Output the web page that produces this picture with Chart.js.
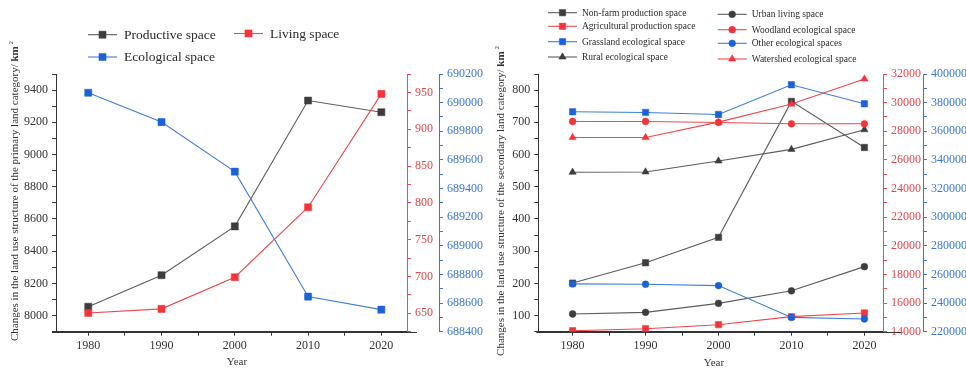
<!DOCTYPE html>
<html><head><meta charset="utf-8">
<script src="https://cdn.jsdelivr.net/npm/chart.js@4/dist/chart.umd.min.js"></script>
<style>
html,body{margin:0;padding:0;background:#fff;width:966px;height:369px;overflow:hidden}
canvas{position:absolute;left:0;top:0}
</style></head><body>
<canvas id="c1" width="966" height="369"></canvas>
<canvas id="c2" width="966" height="369"></canvas>
<script>
// ---------- data ----------
const years = [1980, 1990, 2000, 2010, 2020];
// primary land categories (km²)
const productiveSpace = [8055, 8251, 8554, 9335, 9263];
const livingSpace = [650.5, 656, 699, 794, 948];
const ecologicalSpace = [690069, 689864, 689518, 688645, 688554];
// secondary land categories (km²)
const nonFarmProduction = [201, 264, 343, 765, 622];
const urbanLiving = [105, 110, 138, 177, 252];
const ruralEcological = [545, 546, 580, 616, 677];
const agriculturalProduction = [14070, 14210, 14490, 15050, 15310];
const woodlandEcological = [28685, 28685, 28615, 28520, 28520];
const watershedEcological = [27565, 27565, 28640, 29900, 31650];
const grasslandEcological = [373600, 373150, 371750, 392500, 379200];
const otherEcological = [253400, 253150, 252200, 230000, 228900];

// ---------- style ----------
const SERIF = "'Liberation Serif','Times New Roman','DejaVu Serif',serif";
Chart.defaults.font.family = SERIF;
const GRAY = {line: '#5c5c5c', mark: '#3d3d3d', axis: '#333333', text: '#333333'};
const RED = {line: '#f0484d', mark: '#f5333b', axis: '#ee4a4f', text: '#e9464b'};
const BLUE = {line: '#3f7fd9', mark: '#1a62da', axis: '#3b76cc', text: '#3c78d0'};

function ds(label, vals, axis, c, style, r, order) {
  return {
    label, yAxisID: axis, order,
    data: years.map((y, i) => ({x: y, y: vals[i]})),
    borderColor: c.line, backgroundColor: c.mark,
    pointBackgroundColor: c.mark, pointBorderColor: c.mark,
    pointStyle: style, pointRadius: r, pointHoverRadius: r,
    borderWidth: 1.1, pointBorderWidth: 0.5, tension: 0
  };
}

function yScale(pos, weight, min, max, step, labelStep, c, width) {
  return {
    type: 'linear', position: pos, weight, min, max,
    afterFit: s => { s.width = width; },
    border: {display: true, color: c.axis, width: 1},
    grid: {display: true, drawOnChartArea: false, drawTicks: true, tickLength: 4, color: c.axis, tickColor: c.axis},
    ticks: {stepSize: step, includeBounds: false, autoSkip: false, color: c.text, padding: 4,
      font: {size: 12, family: SERIF},
      callback: v => (Math.round(v) % labelStep === 0 ? String(Math.round(v)) : '')}
  };
}

function xScale(min, max) {
  return {
    type: 'linear', min, max,
    afterFit: s => { s.height = 36; },
    border: {display: true, color: '#333', width: 1},
    grid: {display: true, drawOnChartArea: false, tickLength: 4, color: '#333', tickColor: '#333'},
    ticks: {stepSize: 5, includeBounds: false, autoSkip: false, maxRotation: 0, padding: 3,
      color: '#333', font: {size: 12, family: SERIF},
      callback: v => (Math.round(v) % 10 === 0 ? String(Math.round(v)) : '')}
  };
}

function drawMarker(ctx, style, x, y, r, color) {
  ctx.save();
  ctx.fillStyle = color; ctx.strokeStyle = color; ctx.lineWidth = 0.5;
  if (Chart.helpers && Chart.helpers.drawPoint) {
    Chart.helpers.drawPoint(ctx, {pointStyle: style, rotation: 0, borderWidth: 0.5, radius: r}, x, y);
  } else {
    ctx.beginPath();
    if (style === 'rect') { const s = r * Math.SQRT1_2; ctx.rect(x - s, y - s, 2 * s, 2 * s); }
    else if (style === 'triangle') { ctx.moveTo(x, y - r); ctx.lineTo(x + 0.866 * r, y + r / 2); ctx.lineTo(x - 0.866 * r, y + r / 2); ctx.closePath(); }
    else { ctx.arc(x, y, r, 0, Math.PI * 2); }
    ctx.fill();
  }
  ctx.restore();
}

const decor = {
  id: 'decor',
  afterDraw(chart, args, o) {
    const ctx = chart.ctx, ca = chart.chartArea;
    ctx.save();
    // x axis line extension
    ctx.strokeStyle = '#333'; ctx.lineWidth = 1;
    ctx.beginPath();
    ctx.moveTo(ca.left - o.extL, Math.round(ca.bottom) + 0.5);
    ctx.lineTo(ca.right + o.extR, Math.round(ca.bottom) + 0.5);
    ctx.stroke();
    // Year title
    ctx.fillStyle = '#333';
    ctx.font = '11px ' + SERIF;
    ctx.textAlign = 'center'; ctx.textBaseline = 'middle';
    ctx.fillText('Year', o.yearX, o.yearY);
    // y title (rotated, with bold km and superscript 2)
    ctx.save();
    ctx.translate(o.titleX, o.titleY);
    ctx.rotate(-Math.PI / 2);
    ctx.textAlign = 'left'; ctx.textBaseline = 'middle';
    const segs = [
      {t: o.titleText, f: '11px ' + SERIF, dy: 0},
      {t: 'km', f: 'bold 11px ' + SERIF, dy: 0},
      {t: ' 2', f: '7px ' + SERIF, dy: -4}
    ];
    let total = 0;
    segs.forEach(s => { ctx.font = s.f; s.w = ctx.measureText(s.t).width; total += s.w; });
    let xx = -total / 2;
    segs.forEach(s => { ctx.font = s.f; ctx.fillText(s.t, xx, s.dy); xx += s.w; });
    ctx.restore();
    // legend
    ctx.font = o.legendFont;
    ctx.textAlign = 'left'; ctx.textBaseline = 'middle';
    o.legend.forEach(e => {
      const d = chart.data.datasets[e.i];
      ctx.strokeStyle = d.borderColor; ctx.lineWidth = 1.1;
      ctx.beginPath(); ctx.moveTo(e.x, e.y); ctx.lineTo(e.x + o.lineLen, e.y); ctx.stroke();
      drawMarker(ctx, d.pointStyle, e.x + o.lineLen / 2, e.y, d.pointRadius, d.pointBackgroundColor);
      ctx.fillStyle = '#2a2a2a';
      ctx.fillText(d.label, e.x + o.textOff, e.y + 0.5);
    });
    ctx.restore();
  }
};

// ---------- left chart ----------
new Chart(document.getElementById('c1'), {
  type: 'line',
  data: {datasets: [
    ds('Productive space', productiveSpace, 'y', GRAY, 'rect', 5, 3),
    ds('Living space', livingSpace, 'yRed', RED, 'rect', 5, 2),
    ds('Ecological space', ecologicalSpace, 'yBlue', BLUE, 'rect', 5, 1)
  ]},
  options: {
    responsive: false, animation: false, devicePixelRatio: 1,
    layout: {padding: {left: 16, right: 481, top: 74, bottom: 1.3}},
    plugins: {
      legend: {display: false}, tooltip: {enabled: false},
      decor: {
        extL: 4, extR: 10, yearX: 237, yearY: 362,
        titleX: 15, titleY: 191,
        titleText: 'Changes in the land use structure of the primary land category/ ',
        legendFont: '13.5px ' + SERIF, lineLen: 29, textOff: 36,
        legend: [{i: 0, x: 88, y: 34.7}, {i: 1, x: 234, y: 33.5}, {i: 2, x: 88, y: 57}]
      }
    },
    scales: {
      x: xScale(1975.6, 2023.5),
      y: yScale('left', 0, 7900, 9500, 100, 200, GRAY, 40),
      yRed: yScale('right', 1, 625, 975, 25, 50, RED, 32),
      yBlue: yScale('right', 2, 688400, 690200, 100, 200, BLUE, 46)
    }
  },
  plugins: [decor]
});

// ---------- right chart ----------
new Chart(document.getElementById('c2'), {
  type: 'line',
  data: {datasets: [
    ds('Non-farm production space', nonFarmProduction, 'y', GRAY, 'rect', 4.5, 9),
    ds('Agricultural production space', agriculturalProduction, 'yRed', RED, 'rect', 4.5, 6),
    ds('Grassland ecological space', grasslandEcological, 'yBlue', BLUE, 'rect', 4.5, 3),
    ds('Rural ecological space', ruralEcological, 'y', GRAY, 'triangle', 4.2, 8),
    ds('Urban living space', urbanLiving, 'y', GRAY, 'circle', 3.4, 7),
    ds('Woodland ecological space', woodlandEcological, 'yRed', RED, 'circle', 3.4, 5),
    ds('Other ecological spaces', otherEcological, 'yBlue', BLUE, 'circle', 3.4, 2),
    ds('Watershed ecological space', watershedEcological, 'yRed', RED, 'triangle', 4.2, 4)
  ]},
  options: {
    responsive: false, animation: false, devicePixelRatio: 1,
    layout: {padding: {left: 498.3, right: 0, top: 74, bottom: 1.3}},
    plugins: {
      legend: {display: false}, tooltip: {enabled: false},
      decor: {
        extL: 2, extR: 18, yearX: 714, yearY: 363,
        titleX: 501, titleY: 201,
        titleText: 'Changes in the land use structure of the secondary land category/ ',
        legendFont: '9.5px ' + SERIF, lineLen: 29, textOff: 34,
        legend: [
          {i: 0, x: 548, y: 12.7}, {i: 1, x: 548, y: 26.3}, {i: 2, x: 548, y: 41.7}, {i: 3, x: 548, y: 57},
          {i: 4, x: 717.7, y: 14.3}, {i: 5, x: 717.7, y: 29.7}, {i: 6, x: 717.7, y: 43.3}, {i: 7, x: 717.7, y: 59}
        ]
      }
    },
    scales: {
      x: xScale(1975.3, 2022.55),
      y: yScale('left', 0, 50, 850, 50, 100, GRAY, 40),
      yRed: yScale('right', 1, 14000, 32000, 1000, 2000, RED, 40),
      yBlue: yScale('right', 2, 220000, 400000, 10000, 20000, BLUE, 43)
    }
  },
  plugins: [decor]
});
</script>
</body></html>
